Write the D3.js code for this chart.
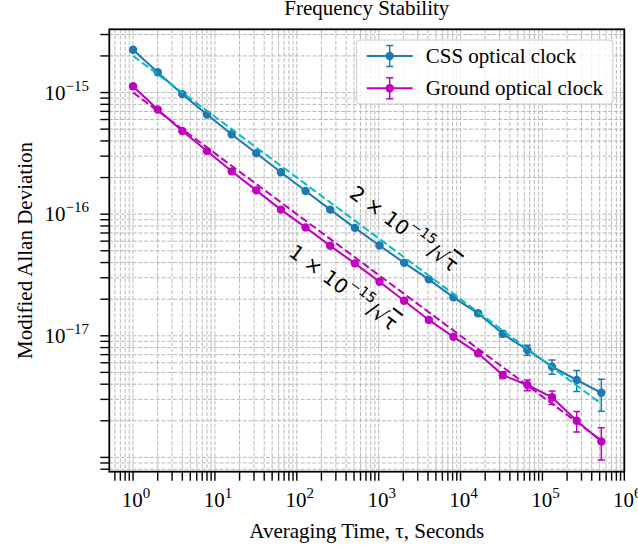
<!DOCTYPE html>
<html>
<head>
<meta charset="utf-8">
<script src="https://cdn.jsdelivr.net/npm/d3@7"></script>
<style>
  body { margin: 0; background: #fff; }
  svg { display: block; }
</style>
</head>
<body>
<script>
// averaging times (s)
const tau = [1, 2, 4, 8, 16, 32, 64, 128, 256, 512, 1024, 2048, 4096, 8192,
  16384, 32768, 65536, 131072, 262144, 524288];

// modified Allan deviation, CSS optical clock
const cssDev = [2.25e-15, 1.47e-15, 9.7e-16, 6.6e-16, 4.54e-16, 3.17e-16, 2.21e-16, 1.55e-16,
  1.09e-16, 7.71e-17, 5.53e-17, 3.98e-17, 2.91e-17, 2.07e-17, 1.53e-17, 1.04e-17,
  7.64e-18, 5.57e-18, 4.33e-18, 3.40e-18];
const cssErr = [4.5e-17, 3e-17, 2e-17, 1.3e-17, 9e-18, 6.5e-18, 4.5e-18, 3.2e-18,
  2.3e-18, 1.7e-18, 1.2e-18, 9e-19, 7e-19, 6e-19, 6e-19, 6e-19,
  7.3e-19, 7.5e-19, 8.5e-19, 1.0e-18];

// modified Allan deviation, ground optical clock
const groundDev = [1.127e-15, 7.25e-16, 4.83e-16, 3.31e-16, 2.25e-16, 1.57e-16, 1.09e-16, 7.78e-17,
  5.49e-17, 3.94e-17, 2.78e-17, 1.94e-17, 1.35e-17, 9.8e-18, 7.17e-18, 4.75e-18,
  3.94e-18, 3.12e-18, 2.0e-18, 1.35e-18];
const groundErr = [2.2e-17, 1.5e-17, 1e-17, 7e-18, 5e-18, 3.5e-18, 2.5e-18, 1.8e-18,
  1.3e-18, 1e-18, 7e-19, 5.5e-19, 4.5e-19, 3.5e-19, 3e-19, 3e-19,
  4e-19, 4e-19, 3.8e-19, 4e-19];

// white-noise reference lines  a / sqrt(tau)
const refCoef = [2e-15, 1e-15];
const refLabel = ['2', '1'];
const refLabelPos = [[2050, 7.6e-17], [370, 2.5e-17]];

const xTickExp = [0, 1, 2, 3, 4, 5, 6];
const yTickExp = [-17, -16, -15];

const W = 638, H = 549;
const serif = '"Liberation Serif", "Times New Roman", serif';
const sans = '"DejaVu Sans", sans-serif';
const fs = 21;

const svg = d3.select('body').append('svg')
  .attr('width', W).attr('height', H);

const pLeft = 109.3, pRight = 624.3, pTop = 29.3, pBottom = 471.7;

const x = d3.scaleLog().domain([Math.pow(10, -0.29), Math.pow(10, 6.0)]).range([pLeft, pRight]);
const y = d3.scaleLog().domain([Math.pow(10, -18.1175), Math.pow(10, -14.48)]).range([pBottom, pTop]);

// tick values
const xMinor = [], yMinor = [];
for (let e = -1; e <= 6; e++) for (let m = 2; m <= 9; m++) {
  const v = m * Math.pow(10, e);
  if (v > x.domain()[0] && v < x.domain()[1]) xMinor.push(v);
}
for (let e = -19; e <= -15; e++) for (let m = 2; m <= 9; m++) {
  const v = m * Math.pow(10, e);
  if (v > y.domain()[0] && v < y.domain()[1]) yMinor.push(v);
}
const xMajor = xTickExp.map(e => Math.pow(10, e));
const yMajor = [];
for (let e = -19; e <= -14; e++) {
  const v = Math.pow(10, e);
  if (v > y.domain()[0] && v < y.domain()[1]) yMajor.push(v);
}

// clip
svg.append('clipPath').attr('id', 'plot')
  .append('rect').attr('x', pLeft).attr('y', pTop)
  .attr('width', pRight - pLeft).attr('height', pBottom - pTop);

// grid
const grid = svg.append('g')
  .attr('stroke', '#b0b0b0').attr('stroke-width', 0.9)
  .attr('stroke-dasharray', '4,1.8').attr('fill', 'none');
grid.selectAll('.gx').data(xMajor.concat(xMinor)).enter().append('line')
  .attr('x1', d => x(d)).attr('x2', d => x(d)).attr('y1', pTop).attr('y2', pBottom);
grid.selectAll('.gy').data(yMajor.concat(yMinor)).enter().append('line')
  .attr('y1', d => y(d)).attr('y2', d => y(d)).attr('x1', pLeft).attr('x2', pRight);

const plot = svg.append('g').attr('clip-path', 'url(#plot)');

const series = [
  { name: 'CSS optical clock', dev: cssDev, err: cssErr, color: '#1f77b4' },
  { name: 'Ground optical clock', dev: groundDev, err: groundErr, color: '#bf00bf' }
];
const refColors = ['#00bfbf', '#bf00bf'];

const line = d3.line().x(d => x(d[0])).y(d => y(d[1]));

series.forEach(s => {
  const pts = tau.map((t, i) => [t, s.dev[i], s.err[i]]);
  const g = plot.append('g');
  // error bars
  const eb = g.selectAll('.eb').data(pts).enter().append('g')
    .attr('stroke', s.color).attr('stroke-width', 1.5);
  eb.append('line')
    .attr('x1', d => x(d[0])).attr('x2', d => x(d[0]))
    .attr('y1', d => y(d[1] - d[2])).attr('y2', d => y(d[1] + d[2]));
  eb.append('line')
    .attr('x1', d => x(d[0]) - 3.5).attr('x2', d => x(d[0]) + 3.5)
    .attr('y1', d => y(d[1] - d[2])).attr('y2', d => y(d[1] - d[2]));
  eb.append('line')
    .attr('x1', d => x(d[0]) - 3.5).attr('x2', d => x(d[0]) + 3.5)
    .attr('y1', d => y(d[1] + d[2])).attr('y2', d => y(d[1] + d[2]));
  g.append('path').datum(pts)
    .attr('d', line).attr('fill', 'none')
    .attr('stroke', s.color).attr('stroke-width', 2);
  g.selectAll('circle').data(pts).enter().append('circle')
    .attr('cx', d => x(d[0])).attr('cy', d => y(d[1])).attr('r', 4.2)
    .attr('fill', s.color);
});

// reference lines
refCoef.forEach((c, i) => {
  const pts = [tau[0], tau[tau.length - 1]].map(t => [t, c / Math.sqrt(t)]);
  plot.append('path').datum(pts)
    .attr('d', line).attr('fill', 'none')
    .attr('stroke', refColors[i]).attr('stroke-width', 2)
    .attr('stroke-dasharray', '7.7,3.3');
});

// reference labels
const angle = Math.atan2(y(1e-15 / Math.sqrt(10)) - y(1e-15), x(10) - x(1)) * 180 / Math.PI;
refLabelPos.forEach((p, i) => {
  const t = svg.append('text')
    .attr('transform', `translate(${x(p[0])},${y(p[1])}) rotate(${angle})`)
    .attr('text-anchor', 'middle').attr('dominant-baseline', 'central')
    .attr('font-family', sans).attr('font-size', 20).attr('fill', '#000');
  t.append('tspan').text(refLabel[i] + ' \u00d7 10');
  t.append('tspan').attr('font-size', 14).attr('dy', -9).text('\u221215');
  t.append('tspan').attr('dy', 9).text('/\u221a');
  t.append('tspan').style('text-decoration', 'overline').text('\u03c4');
});

// axes frame
svg.append('rect')
  .attr('x', pLeft).attr('y', pTop).attr('width', pRight - pLeft).attr('height', pBottom - pTop)
  .attr('fill', 'none').attr('stroke', '#000').attr('stroke-width', 1.8);

// ticks
const ticks = svg.append('g').attr('stroke', '#000').attr('stroke-width', 1.4);
ticks.selectAll('.tx').data(xMajor.concat(xMinor)).enter().append('line')
  .attr('x1', d => x(d)).attr('x2', d => x(d)).attr('y1', pBottom).attr('y2', pBottom + 9);
ticks.selectAll('.ty').data(yMajor.concat(yMinor)).enter().append('line')
  .attr('y1', d => y(d)).attr('y2', d => y(d)).attr('x1', pLeft).attr('x2', pLeft - 9);

// tick labels
function powLabel(sel, e) {
  sel.append('tspan').text('10');
  sel.append('tspan').attr('font-size', 15).attr('dy', -9)
    .text(e < 0 ? '\u2212' + (-e) : String(e));
}
xTickExp.forEach(e => {
  const t = svg.append('text')
    .attr('x', x(Math.pow(10, e)) + 3).attr('y', 507)
    .attr('text-anchor', 'middle')
    .attr('font-family', serif).attr('font-size', fs);
  powLabel(t, e);
});
yTickExp.forEach(e => {
  const t = svg.append('text')
    .attr('x', 89).attr('y', y(Math.pow(10, e)) + 7)
    .attr('text-anchor', 'end')
    .attr('font-family', serif).attr('font-size', fs);
  powLabel(t, e);
});

// titles
svg.append('text')
  .attr('x', (pLeft + pRight) / 2).attr('y', 15)
  .attr('text-anchor', 'middle')
  .attr('font-family', serif).attr('font-size', fs)
  .text('Frequency Stability');

svg.append('text')
  .attr('x', (pLeft + pRight) / 2).attr('y', 538)
  .attr('text-anchor', 'middle')
  .attr('font-family', serif).attr('font-size', fs)
  .text('Averaging Time, \u03c4, Seconds');

svg.append('text')
  .attr('transform', `translate(32,${(pTop + pBottom) / 2}) rotate(-90)`)
  .attr('text-anchor', 'middle')
  .attr('font-family', serif).attr('font-size', fs)
  .text('Modified Allan Deviation');

// legend
const lg = svg.append('g').attr('transform', 'translate(356.7,40)');
lg.append('rect')
  .attr('width', 256.3).attr('height', 64).attr('rx', 3)
  .attr('fill', '#fff').attr('fill-opacity', 0.8)
  .attr('stroke', '#cccccc').attr('stroke-width', 1);
series.forEach((s, i) => {
  const cy = 16 + i * 32.3;
  const g = lg.append('g').attr('stroke', s.color);
  g.append('line').attr('x1', 10).attr('x2', 56).attr('y1', cy).attr('y2', cy).attr('stroke-width', 2);
  g.append('line').attr('x1', 33).attr('x2', 33).attr('y1', cy - 10.5).attr('y2', cy + 10.5).attr('stroke-width', 1.5);
  g.append('line').attr('x1', 29.5).attr('x2', 36.5).attr('y1', cy - 10.5).attr('y2', cy - 10.5).attr('stroke-width', 1.5);
  g.append('line').attr('x1', 29.5).attr('x2', 36.5).attr('y1', cy + 10.5).attr('y2', cy + 10.5).attr('stroke-width', 1.5);
  lg.append('circle').attr('cx', 33).attr('cy', cy).attr('r', 4.2).attr('fill', s.color);
  lg.append('text').attr('x', 69).attr('y', cy + 7)
    .attr('font-family', serif).attr('font-size', fs)
    .text(s.name);
});
</script>
</body>
</html>
